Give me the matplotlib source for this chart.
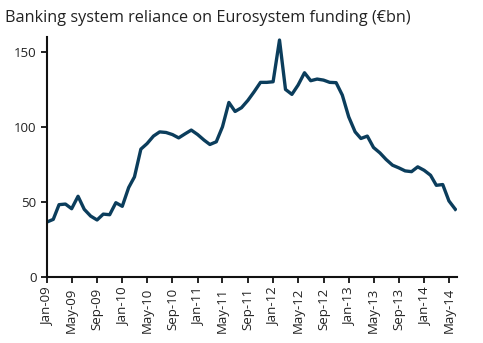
import matplotlib
matplotlib.use("Agg")
import matplotlib.pyplot as plt
import matplotlib.dates as mdates
import pandas as pd

plt.rcParams['font.family'] = ['Open Sans', 'DejaVu Sans']

# Monthly, Jan-09 to Jun-14 (EUR bn)
months = pd.date_range("2009-01-01", periods=66, freq="MS")
funding = [
    36.7, 38.5, 48.3, 48.7, 45.6, 53.9, 45.2, 40.7, 38.1, 42.0, 41.6, 49.6,
    47.2, 59.7, 66.8, 85.3, 89.0, 94.0, 96.8, 96.4, 95.0, 92.8, 95.5, 98.0,
    95.0, 91.3, 88.4, 90.2, 100.2, 116.4, 110.4, 112.9, 117.8, 123.5, 129.8, 129.8,
    130.2, 158.0, 125.1, 121.8, 128.0, 136.2, 130.9, 132.0, 131.3, 129.8, 129.6, 121.3,
    106.8, 96.8, 92.4, 94.0, 86.4, 82.8, 78.4, 74.6, 72.8, 70.8, 70.3, 73.5,
    71.2, 67.9, 61.2, 61.7, 50.8, 45.2,
]

fig = plt.figure(figsize=(4.83, 3.43), dpi=100)
ax = fig.add_axes([0.097, 0.192, 0.85, 0.70])

ax.plot(months, funding, color="#0b3d5c", linewidth=2.4, solid_joinstyle="round")

ax.set_ylim(0, 160)
ax.set_yticks([0, 50, 100, 150])
ax.set_xlim(months[0], months[0] + pd.DateOffset(days=int(65.3 * 30.44)))
ax.xaxis.set_major_locator(mdates.MonthLocator(bymonth=[1, 5, 9]))
ax.xaxis.set_major_formatter(mdates.DateFormatter("%b-%y"))

for s in ["top", "right"]:
    ax.spines[s].set_visible(False)
for s in ["left", "bottom"]:
    ax.spines[s].set_linewidth(1.5)
    ax.spines[s].set_color("#111111")

ax.tick_params(axis="both", direction="out", length=4, width=1.3, labelsize=9.5,
               colors="#111111", labelcolor="#222222")
plt.setp(ax.get_xticklabels(), rotation=90)

fig.text(0.01, 0.948, "Banking system reliance on Eurosystem funding (\u20acbn)",
         fontsize=11.7, color="#222222", va="center", ha="left")

fig.savefig("out.png", dpi=100)
